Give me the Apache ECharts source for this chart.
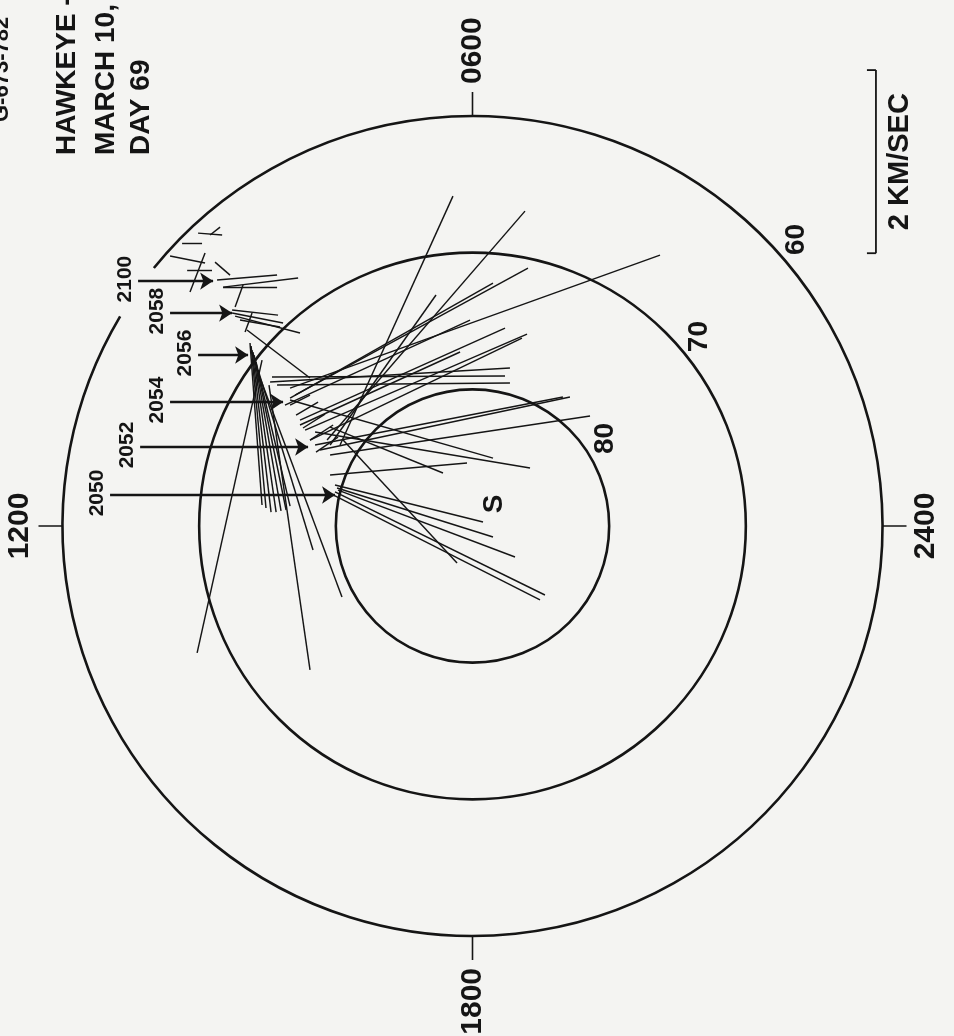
<!DOCTYPE html>
<html>
<head>
<meta charset="utf-8">
<script src="https://cdn.jsdelivr.net/npm/echarts@6/dist/echarts.min.js"></script>
<style>
html,body{margin:0;padding:0;background:#f4f4f2;}
#c{width:954px;height:1036px;}
</style>
</head>
<body>
<div id="c"></div>
<script>
// ---------- DATA ----------
// Invariant-latitude rings, expressed as colatitude (deg) from the pole
const ringColat = [10, 20, 30];
const ringLabels = ['80', '70', '60'];
// the outer (60 deg) ring is broken where the 2100 label sits (MLT hours)
const outerGapMLT = [9.4, 9.95];
// magnetic local time ticks (hours) and their labels
const mltTicks = [6, 12, 18, 24];
const mltTickLabels = ['0600', '1200', '1800', '2400'];
// pass times and satellite positions, dial coords in deg (X toward 2400, Y toward 0600)
const passTimes = ['2050', '2052', '2054', '2056', '2058', '2100'];
const passX = [-10.06, -12.03, -13.86, -16.42, -17.59, -18.98];
const passY = [2.27, 5.78, 9.07, 12.51, 15.58, 17.92];
const arrowTailX = [-26.52, -24.32, -22.13, -20.08, -22.13, -24.47];
// flow vectors: start and end points in dial coords (deg)
const flowStart = [
  [-20.08,21.43],[-19.20,21.29],[-21.25,20.70],[-22.13,19.75],[-19.57,19.97],[-20.88,18.73],
  [-18.84,19.31],[-18.69,18.00],[-18.25,17.48],[-18.25,17.48],[-16.79,17.63],
  [-17.59,15.80],[-17.59,15.58],[-17.37,15.36],[-17.01,15.07],[-16.13,15.58],[-16.50,14.34],
  [-16.28,13.39],[-16.20,13.17],[-16.13,12.87],[-16.06,12.73],[-15.98,12.51],[-15.91,12.29],
  [-15.84,12.00],[-15.69,11.41],[-15.54,10.83],[-14.89,10.31],[-20.15,-9.29],
  [-14.67,10.90],[-14.30,10.31],[-14.81,10.53],
  [-9.69,5.93],[-10.64,6.29],[-13.35,10.09],[-12.98,9.58],[-13.35,9.36],[-10.42,5.93],
  [-12.62,7.75],[-12.25,7.02],[-11.89,6.29],[-11.16,5.56],[-11.52,5.93],[-10.42,5.19],
  [-13.35,9.22],[-12.62,7.39],[-13.72,8.85],
  [-10.06,3.00],[-9.91,2.78],[-9.84,2.63],[-10.06,2.49],[-10.20,2.27],[-9.47,6.29],
  [-10.42,3.73],[-10.42,7.24],[-11.52,6.88],
  [-13.35,8.85],[-12.91,8.12],[-12.40,7.17],[-11.89,6.29],[-11.45,5.41]
];
const flowEnd = [
  [-18.32,21.29],[-18.47,21.87],[-19.79,20.70],[-19.57,19.24],[-20.67,17.12],[-19.06,18.73],
  [-17.74,18.36],[-14.30,18.36],[-12.76,18.14],[-14.30,17.48],[-17.37,16.02],
  [-14.23,15.43],[-13.86,14.85],[-12.62,14.12],[-14.08,14.56],[-16.64,14.19],[-11.89,10.83],
  [-15.40,1.54],[-15.11,1.32],[-14.74,1.02],[-14.37,1.02],[-14.01,1.10],[-13.64,1.17],
  [-13.35,1.46],[-11.67,-1.76],[-9.55,-5.19],[-11.89,-10.53],[-15.40,12.14],
  [2.38,10.97],[2.74,10.46],[2.74,11.56],
  [-1.43,24.14],[3.84,23.04],[13.72,19.82],[4.06,18.87],[1.50,17.78],[-2.67,16.90],
  [2.38,14.48],[3.99,14.04],[3.62,13.75],[7.13,9.44],[6.62,9.44],[8.60,8.05],
  [1.50,4.97],[-0.91,12.73],[-0.18,15.07],
  [0.77,0.29],[1.50,-0.80],[3.11,-2.27],[5.30,-5.05],[4.94,-5.41],[-1.13,-2.71],
  [-0.40,4.61],[-2.16,3.88],[4.21,4.24],
  [-11.89,9.58],[-11.30,9.07],[-10.79,8.19],[-10.20,7.39],[-9.84,6.51]
];
// velocity scale
const scaleBarKms = 2;
const degPerKms = 6.7;
const scaleBarLabel = '2 KM/SEC';
const scaleBarTop = [29.52, 33.36];
// title lines
const titleLines = ['HAWKEYE -', 'MARCH 10,', 'DAY 69'];
const sunMark = 'S';

// ---------- LAYOUT / STYLE ----------
const INK = '#151515';
const FONT = '"Liberation Sans", Arial, sans-serif';
const CX = 472.5, CY = 526, RPX = 410;
const TICK_LEN = 24;
const ringLabelMLT = [2.23, 2.66, 2.77];
const sunPos = [2.25, 3.05];

function rtext(x, y, text, size, align, va) {
  return {
    type: 'text', x: x, y: y, rotation: Math.PI / 2,
    style: {
      text: text, fill: INK, fontSize: size, fontFamily: FONT, fontWeight: 'bold',
      align: align, verticalAlign: va, textAlign: align, textVerticalAlign: va
    }
  };
}

const chart = echarts.init(document.getElementById('c'), null, {renderer: 'canvas', width: 954, height: 1036});

const option = {
  backgroundColor: '#f4f4f2',
  animation: false,
  polar: {center: [CX, CY], radius: RPX},
  radiusAxis: {type: 'value', min: 0, max: 30, show: false},
  angleAxis: {
    type: 'value', min: 0, max: 24, interval: 6, startAngle: 0, clockwise: false,
    axisLine: {show: false},
    axisTick: {show: true, inside: false, length: TICK_LEN, lineStyle: {color: INK, width: 1.6}},
    axisLabel: {show: false},
    splitLine: {show: false}
  },
  grid: {left: CX - RPX, top: CY - RPX, width: 2 * RPX, height: 2 * RPX},
  xAxis: {type: 'value', min: -30, max: 30, show: false},
  yAxis: {type: 'value', min: -30, max: 30, show: false},
  graphic: [
    rtext(67, 155, titleLines[0], 28, 'left', 'middle'),
    rtext(106, 155, titleLines[1], 28, 'left', 'middle'),
    rtext(141, 155, titleLines[2], 28, 'left', 'middle'),
    rtext(2, 122, 'G-673-782', 22, 'left', 'middle')
  ],
  series: [
    { // rings
      type: 'custom', coordinateSystem: 'polar', silent: true, clip: false,
      data: ringColat.map(c => [c, 0]),
      renderItem: function (params, api) {
        const i = params.dataIndex;
        const colat = api.value(0);
        const c = api.coord([0, 0]);
        const e = api.coord([colat, 0]);
        const r = Math.hypot(e[0] - c[0], e[1] - c[1]);
        let sa = 0, ea = Math.PI * 2;
        if (i === ringColat.length - 1) {
          const p1 = api.coord([colat, outerGapMLT[0]]);
          const p2 = api.coord([colat, outerGapMLT[1]]);
          sa = Math.atan2(p1[1] - c[1], p1[0] - c[0]);
          ea = Math.atan2(p2[1] - c[1], p2[0] - c[0]);
          if (ea <= sa) ea += Math.PI * 2;
        }
        return {type: 'arc', shape: {cx: c[0], cy: c[1], r: r, startAngle: sa, endAngle: ea, clockwise: true},
          style: {stroke: INK, fill: 'none', lineWidth: 2.6}};
      }
    },
    { // MLT labels
      type: 'custom', coordinateSystem: 'polar', silent: true, clip: false,
      data: mltTicks.map(m => [30, m]),
      renderItem: function (params, api) {
        const c = api.coord([0, 0]);
        const p = api.coord([api.value(0), api.value(1)]);
        const dx = p[0] - c[0], dy = p[1] - c[1], L = Math.hypot(dx, dy);
        const ux = dx / L, uy = dy / L;
        let align, va, off;
        if (Math.abs(uy) > Math.abs(ux)) { va = 'middle'; align = uy < 0 ? 'left' : 'right'; off = TICK_LEN + 8; }
        else { align = 'center'; va = ux < 0 ? 'bottom' : 'top'; off = TICK_LEN + 4; }
        return rtext(p[0] + ux * off, p[1] + uy * off, mltTickLabels[params.dataIndex], 30, align, va);
      }
    },
    { // ring labels
      type: 'custom', coordinateSystem: 'polar', silent: true, clip: false,
      data: ringColat.map((c, i) => [c, ringLabelMLT[i]]),
      renderItem: function (params, api) {
        const c = api.coord([0, 0]);
        const p = api.coord([api.value(0), api.value(1)]);
        const dx = p[0] - c[0], dy = p[1] - c[1], L = Math.hypot(dx, dy);
        return rtext(p[0] + dx / L * 22, p[1] + dy / L * 22, ringLabels[params.dataIndex], 28, 'center', 'middle');
      }
    },
    { // S mark
      type: 'custom', coordinateSystem: 'polar', silent: true, clip: false,
      data: [sunPos],
      renderItem: function (params, api) {
        const p = api.coord([api.value(0), api.value(1)]);
        return rtext(p[0], p[1], sunMark, 28, 'center', 'middle');
      }
    },
    { // flow vectors
      type: 'lines', coordinateSystem: 'cartesian2d', silent: true, clip: false,
      polyline: false, symbol: 'none',
      lineStyle: {color: INK, width: 1.45, opacity: 1},
      data: flowStart.map((s, i) => ({coords: [s, flowEnd[i]]}))
    },
    { // time arrows
      type: 'lines', coordinateSystem: 'cartesian2d', silent: true, clip: false,
      polyline: false, symbol: ['none', 'arrow'], symbolSize: [1, 13],
      lineStyle: {color: INK, width: 2.4, opacity: 1},
      itemStyle: {color: INK},
      data: passTimes.map((t, i) => ({coords: [[arrowTailX[i], passY[i]], [passX[i], passY[i]]]}))
    },
    { // time labels
      type: 'custom', coordinateSystem: 'cartesian2d', silent: true, clip: false,
      data: passTimes.map((t, i) => [arrowTailX[i], passY[i]]),
      renderItem: function (params, api) {
        const p = api.coord([api.value(0), api.value(1)]);
        return rtext(p[0] - 2, p[1] - 2, passTimes[params.dataIndex], 21, 'center', 'bottom');
      }
    },
    { // scale bar
      type: 'custom', coordinateSystem: 'cartesian2d', silent: true, clip: false,
      data: [scaleBarTop],
      renderItem: function (params, api) {
        const p0 = api.coord([api.value(0), api.value(1)]);
        const p1 = api.coord([api.value(0), api.value(1) - scaleBarKms * degPerKms]);
        const ls = {stroke: INK, lineWidth: 1.8};
        return {type: 'group', children: [
          {type: 'line', shape: {x1: p0[0], y1: p0[1], x2: p1[0], y2: p1[1]}, style: ls},
          {type: 'line', shape: {x1: p0[0] - 9, y1: p0[1], x2: p0[0], y2: p0[1]}, style: ls},
          {type: 'line', shape: {x1: p1[0] - 9, y1: p1[1], x2: p1[0], y2: p1[1]}, style: ls},
          rtext(p0[0] + 10, (p0[1] + p1[1]) / 2, scaleBarLabel, 29, 'center', 'top')
        ]};
      }
    }
  ]
};
chart.setOption(option);
</script>
</body>
</html>
